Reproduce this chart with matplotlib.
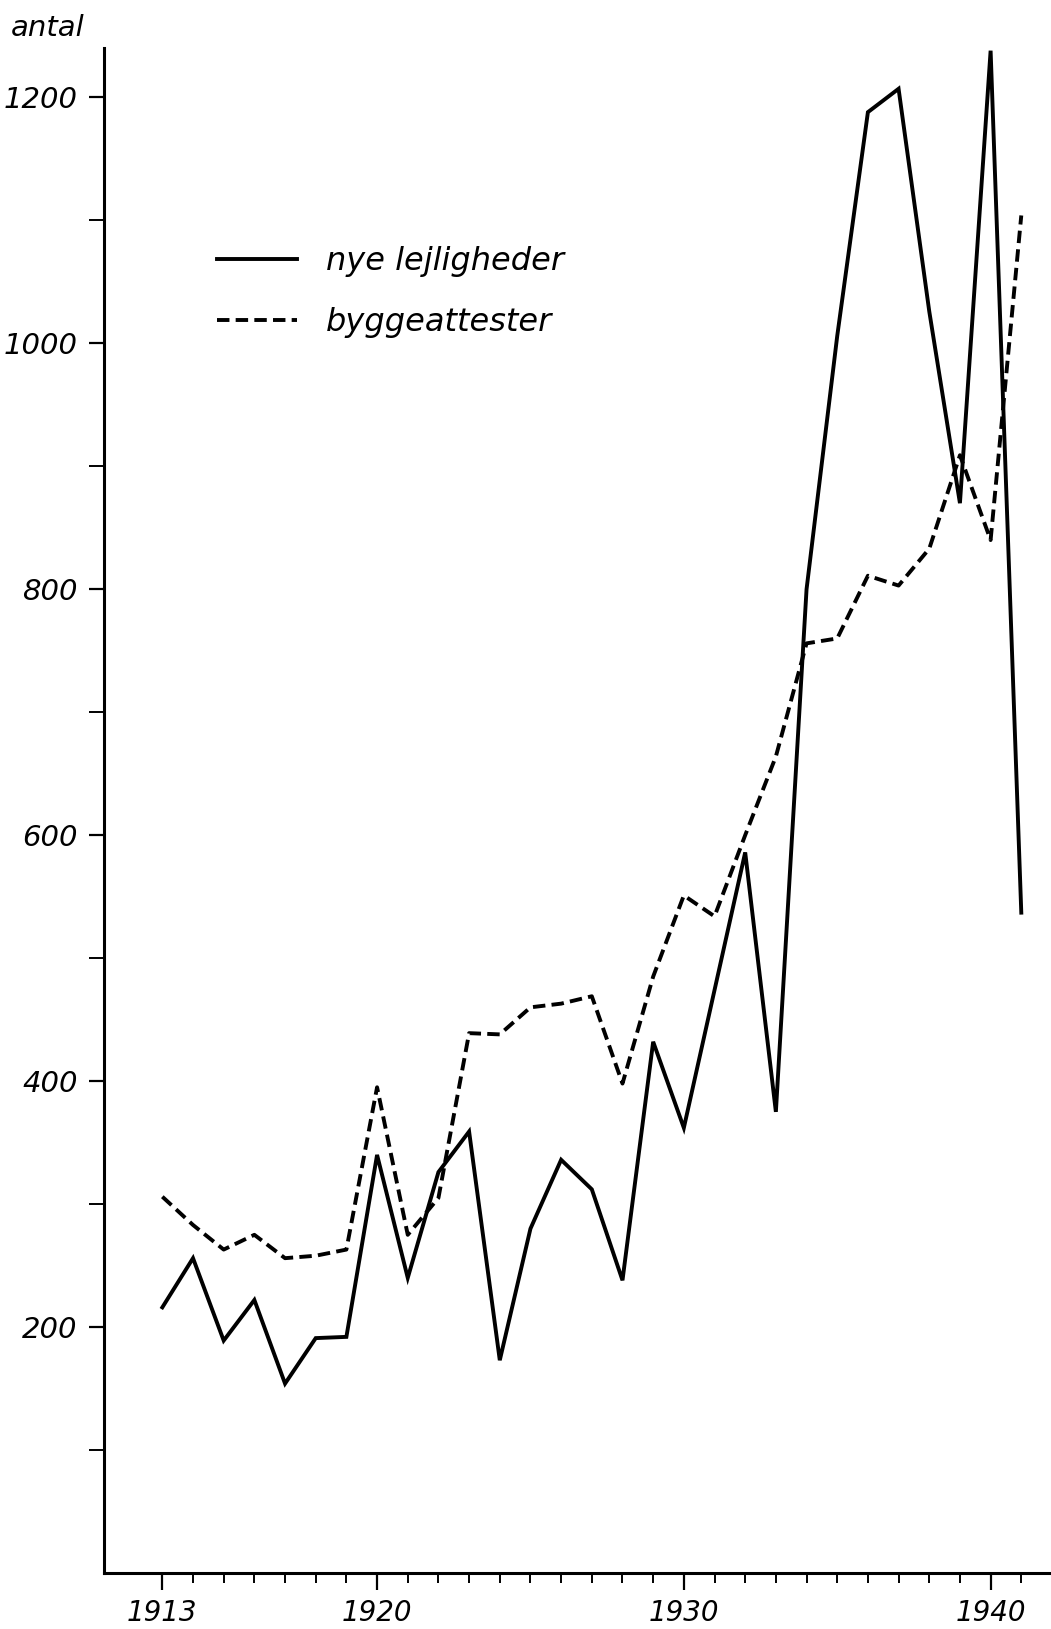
import numpy as np
import matplotlib
matplotlib.use('Agg')
import matplotlib.pyplot as plt
from matplotlib.ticker import FixedLocator

# Data
years = list(range(1913, 1942))

# nye lejligheder (solid line)
nye_lejligheder = [216, 256, 189, 222, 154, 191, 192, 340, 240, 326,
                   359, 173, 280, 336, 312, 238, 432, 362, 474, 586,
                   375, 800, 1006, 1188, 1207, 1026, 870, 1238, 537]

# byggeattester (dashed line)
byggeattester = [306, 283, 263, 275, 256, 258, 263, 395, 275, 305,
                 439, 438, 460, 463, 469, 398, 485, 551, 534, 600,
                 664, 756, 760, 811, 803, 833, 909, 840, 1104]

x_labels = [1913, 1920, 1930, 1940]
y_labels = [200, 400, 600, 800, 1000, 1200]
y_minor = [100, 300, 500, 700, 900, 1100]

plt.rcParams['font.family'] = ['DejaVu Sans']
plt.rcParams['font.style'] = 'italic'

fig = plt.figure(figsize=(10.51, 16.29), dpi=100)
ax = fig.add_axes([0.099, 0.0344, 0.899, 0.936])

ax.plot(years, nye_lejligheder, color='black', lw=2.8,
        solid_joinstyle='miter', label='nye lejligheder')
ax.plot(years, byggeattester, color='black', lw=2.8,
        linestyle=(0, (3.2, 1.6)), label='byggeattester')

ax.set_xlim(1911.1, 1941.9)
ax.set_ylim(0, 1240)

ax.spines['top'].set_visible(False)
ax.spines['right'].set_visible(False)
ax.spines['left'].set_linewidth(2.2)
ax.spines['bottom'].set_linewidth(2.2)

ax.xaxis.set_major_locator(FixedLocator(x_labels))
ax.xaxis.set_minor_locator(FixedLocator(years))
ax.set_xticklabels([str(v) for v in x_labels], fontsize=20, style='italic')
ax.tick_params(axis='x', which='major', length=12, width=1.6, pad=7)
ax.tick_params(axis='x', which='minor', length=7, width=1.4)

ax.yaxis.set_major_locator(FixedLocator(y_labels))
ax.yaxis.set_minor_locator(FixedLocator(y_minor))
ax.set_yticklabels([str(v) for v in y_labels], fontsize=21, style='italic')
ax.tick_params(axis='y', which='major', length=11, width=1.6, pad=8)
ax.tick_params(axis='y', which='minor', length=11, width=1.4)

fig.text(0.01, 0.983, 'antal', fontsize=21, style='italic', va='center', ha='left')

ax.legend(loc='upper left', bbox_to_anchor=(0.2065, 0.849),
          bbox_transform=fig.transFigure, frameon=False, fontsize=23,
          handlelength=2.5, handletextpad=0.9, labelspacing=0.95,
          borderpad=0, borderaxespad=0)

fig.savefig('out.png', dpi=100)
